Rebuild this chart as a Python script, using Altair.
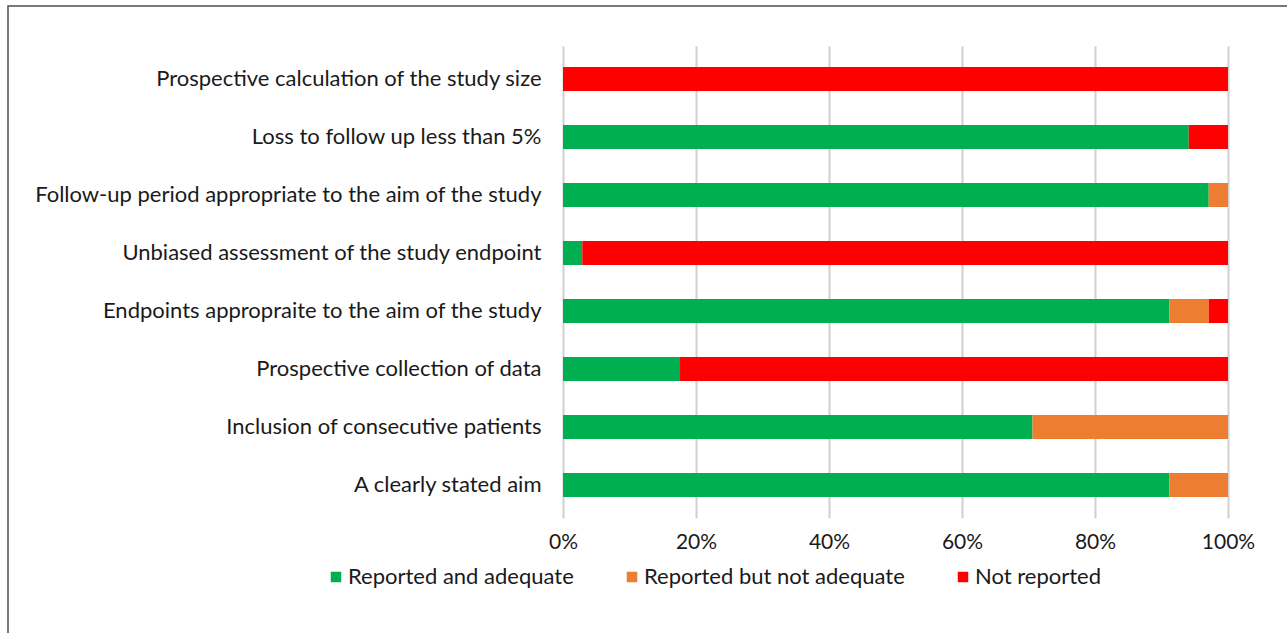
import altair as alt
import pandas as pd

categories = [
    "Prospective calculation of the study size",
    "Loss to follow up less than 5%",
    "Follow-up period appropriate to the aim of the study",
    "Unbiased assessment of the study endpoint",
    "Endpoints appropraite to the aim of the study",
    "Prospective collection of data",
    "Inclusion of consecutive patients",
    "A clearly stated aim",
]
series = ["Reported and adequate", "Reported but not adequate", "Not reported"]
reported_adequate = [0, 94.1, 97.1, 2.9, 91.2, 17.6, 70.6, 91.2]
reported_not_adequate = [0, 0, 2.9, 0, 5.9, 0, 29.4, 8.8]
not_reported = [100, 5.9, 0, 97.1, 2.9, 82.4, 0, 0]
colors = ["#00B050", "#ED7D31", "#FF0000"]
tick_values = [0, 20, 40, 60, 80, 100]

rows = []
for i, cat in enumerate(categories):
    for j, (name, vals) in enumerate(zip(series, [reported_adequate, reported_not_adequate, not_reported])):
        rows.append({"item": cat, "series": name, "order": j, "value": vals[i]})
df = pd.DataFrame(rows)

FONT = "Lato"

bars = alt.Chart(df).mark_bar(size=24).encode(
    y=alt.Y("item:N", sort=categories, title=None,
            scale=alt.Scale(paddingInner=0.586, paddingOuter=0.362),
            axis=alt.Axis(labelFontSize=22, labelFont=FONT, labelColor="#1a1a1a",
                          labelPadding=22, ticks=False, domain=False, grid=False,
                          labelLimit=600)),
    x=alt.X("value:Q", stack="zero", title=None,
            scale=alt.Scale(domain=[0, 100], nice=False),
            axis=alt.Axis(values=tick_values, labelExpr="datum.value + '%'",
                          labelFontSize=21, labelFont=FONT, labelColor="#1a1a1a",
                          labelPadding=13, labelFlush=False, ticks=False, domain=False,
                          grid=True, gridColor="#D0D0D0", gridWidth=2)),
    color=alt.Color("series:N", sort=series, title=None,
                    scale=alt.Scale(domain=series, range=colors),
                    legend=alt.Legend(orient="none", legendX=-238, legendY=520,
                                      direction="horizontal", symbolType="square",
                                      symbolSize=110, symbolStrokeWidth=0,
                                      labelFontSize=22, labelFont=FONT,
                                      labelColor="#1a1a1a", columnPadding=47,
                                      labelOffset=1, labelLimit=400)),
    order=alt.Order("order:Q"),
)

frame = alt.Chart(alt.Data(values=[{}])).mark_rect(
    filled=False, stroke="#4d4d4d", strokeWidth=1.5
).encode(
    x=alt.value(-555), x2=alt.value(760),
    y=alt.value(-40), y2=alt.value(640),
)

chart = alt.layer(frame, bars).properties(
    width=665, height=472,
    autosize=alt.AutoSizeParams(type="none"),
    padding={"left": 563, "top": 46, "right": 59, "bottom": 115},
    background="white",
).configure_view(stroke=None)

chart.save("out.html", embed_options={"renderer": "svg", "actions": False})
